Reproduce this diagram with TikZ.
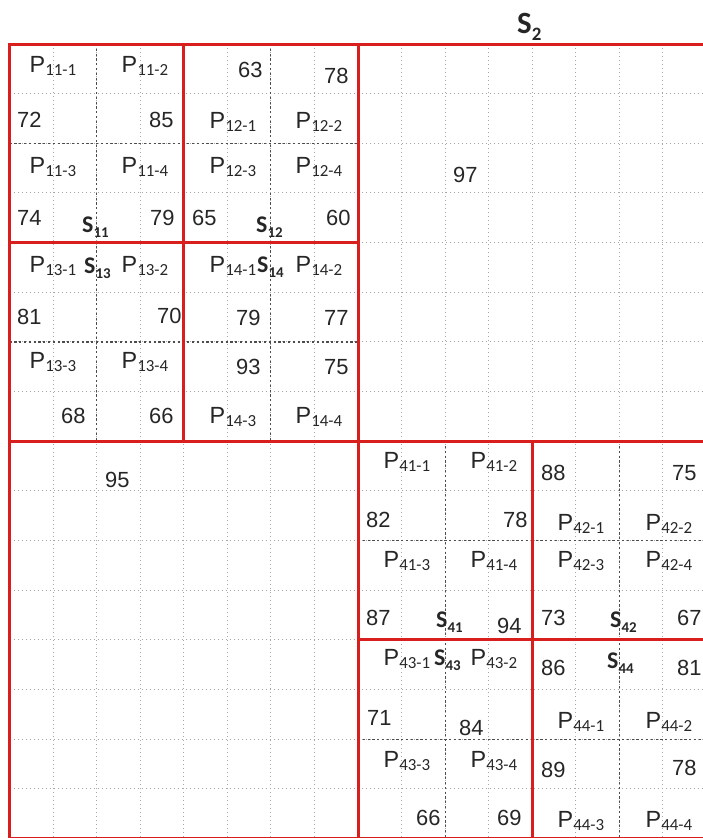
\documentclass[tikz,border=0pt]{standalone}
\usepackage{fontspec}
\setmainfont{Liberation Sans}
\newfontfamily\carl{Carlito}
\definecolor{gridred}{HTML}{D91E1E}
\definecolor{txt}{HTML}{262626}
\newcommand\Plab[1]{{\fontsize{23.5}{23.5}\selectfont P}\raisebox{-3.5bp}{\carl\fontsize{17}{17}\selectfont #1}}
\newcommand\Slab[1]{{\carl\bfseries\fontsize{24}{24}\selectfont S}\raisebox{-5bp}{\carl\bfseries\fontsize{15}{15}\selectfont #1}}
\tikzset{
  num/.style={anchor=base west, inner sep=0pt, text=txt, font=\fontsize{22}{22}\selectfont},
  plab/.style={anchor=base west, inner sep=0pt, text=txt},
  slab/.style={anchor=base west, inner sep=0pt, text=txt},
  lightgrid/.style={draw=gray!70, line width=1bp, dash pattern=on 1.3bp off 2.7bp},
  darkgrid/.style={draw=black!70, line width=1.1bp, dash pattern=on 2.2bp off 2.6bp},
  redline/.style={draw=gridred, line width=3bp},
}
\begin{document}
\begin{tikzpicture}[x=1bp, y=-1bp]
\path[use as bounding box] (0,0) rectangle (703,838);
\clip (0,0) rectangle (703,838);
\def\cw{43.5625}
\def\rh{49.66}
\def\xo{9.5}
\def\yo{44}
% light dotted grid
\foreach \i in {1,...,15} {
  \draw[lightgrid] ({\xo+\i*\cw},\yo) -- ({\xo+\i*\cw},{\yo+16*\rh});
  \draw[lightgrid] (\xo,{\yo+\i*\rh}) -- ({\xo+16*\cw},{\yo+\i*\rh});
}
% darker mid lines in subdivided quadrants
\foreach \i in {2,6} {
  \draw[darkgrid] ({\xo+\i*\cw},\yo) -- ({\xo+\i*\cw},{\yo+8*\rh});
  \draw[darkgrid] (\xo,{\yo+\i*\rh}) -- ({\xo+8*\cw},{\yo+\i*\rh});
}
\foreach \i in {10,14} {
  \draw[darkgrid] ({\xo+\i*\cw},{\yo+8*\rh}) -- ({\xo+\i*\cw},{\yo+16*\rh});
  \draw[darkgrid] ({\xo+8*\cw},{\yo+\i*\rh}) -- ({\xo+16*\cw},{\yo+\i*\rh});
}
% red lines
\draw[redline] (\xo,\yo) rectangle ({\xo+16*\cw},{\yo+16*\rh});
\draw[redline] ({\xo+8*\cw},\yo) -- ({\xo+8*\cw},{\yo+16*\rh});
\draw[redline] (\xo,{\yo+8*\rh}) -- ({\xo+16*\cw},{\yo+8*\rh});
\draw[redline] ({\xo+4*\cw},\yo) -- ({\xo+4*\cw},{\yo+8*\rh});
\draw[redline] (\xo,{\yo+4*\rh}) -- ({\xo+8*\cw},{\yo+4*\rh});
\draw[redline] ({\xo+12*\cw},{\yo+8*\rh}) -- ({\xo+12*\cw},{\yo+16*\rh});
\draw[redline] ({\xo+8*\cw},{\yo+12*\rh}) -- ({\xo+16*\cw},{\yo+12*\rh});
% title
\node[slab] (s2) at (517,33) {{\carl\bfseries\fontsize{31}{31}\selectfont S}\raisebox{-7bp}{\carl\bfseries\fontsize{19}{19}\selectfont 2}};
% top-left quadrant
\node[plab] (p111) at (29.5,72) {\Plab{11-1}};
\node[plab] (p112) at (121.5,72) {\Plab{11-2}};
\node[num] (n63) at (238,77) {63};
\node[num] (n78a) at (324,83) {78};
\node[num] (n72) at (17,127) {72};
\node[num] (n85) at (149,127) {85};
\node[plab] (p121) at (209.5,128) {\Plab{12-1}};
\node[plab] (p122) at (295.5,128) {\Plab{12-2}};
\node[plab] (p113) at (29.5,173) {\Plab{11-3}};
\node[plab] (p114) at (121.5,173) {\Plab{11-4}};
\node[plab] (p123) at (209.5,173) {\Plab{12-3}};
\node[plab] (p124) at (295.5,173) {\Plab{12-4}};
\node[num] (n74) at (17,225) {74};
\node[slab] (s11) at (82,232) {\Slab{11}};
\node[num] (n79a) at (150,225) {79};
\node[num] (n65) at (192,225) {65};
\node[slab] (s12) at (256,232) {\Slab{12}};
\node[num] (n60) at (326,225) {60};
\node[plab] (p131) at (29.5,272) {\Plab{13-1}};
\node[slab] (s13) at (84,273) {\Slab{13}};
\node[plab] (p132) at (121.5,272) {\Plab{13-2}};
\node[plab] (p141) at (209.5,272) {\Plab{14-1}};
\node[slab] (s14) at (257,272) {\Slab{14}};
\node[plab] (p142) at (295.5,272) {\Plab{14-2}};
\node[num] (n81a) at (17,324) {81};
\node[num] (n70) at (157,323) {70};
\node[num] (n79b) at (236,325) {79};
\node[num] (n77) at (324,325) {77};
\node[plab] (p133) at (29.5,368) {\Plab{13-3}};
\node[plab] (p134) at (121.5,368) {\Plab{13-4}};
\node[num] (n93) at (236,374) {93};
\node[num] (n75a) at (324,374) {75};
\node[num] (n68) at (61,423) {68};
\node[num] (n66a) at (149,423) {66};
\node[plab] (p143) at (209.5,423) {\Plab{14-3}};
\node[plab] (p144) at (295.5,423) {\Plab{14-4}};
% empty quadrants
\node[num] (n97) at (453,182) {97};
\node[num] (n95) at (105,487) {95};
% bottom-right quadrant
\node[plab] (p411) at (383.5,468) {\Plab{41-1}};
\node[plab] (p412) at (470.5,468) {\Plab{41-2}};
\node[num] (n88) at (541,480) {88};
\node[num] (n75b) at (672,480) {75};
\node[num] (n82) at (366,527) {82};
\node[num] (n78b) at (503,527) {78};
\node[plab] (p421) at (557.5,530) {\Plab{42-1}};
\node[plab] (p422) at (645.5,530) {\Plab{42-2}};
\node[plab] (p413) at (383.5,567) {\Plab{41-3}};
\node[plab] (p414) at (470.5,567) {\Plab{41-4}};
\node[plab] (p423) at (557.5,567) {\Plab{42-3}};
\node[plab] (p424) at (645.5,567) {\Plab{42-4}};
\node[num] (n87) at (366,625) {87};
\node[slab] (s41) at (436,627) {\Slab{41}};
\node[num] (n94) at (497,633) {94};
\node[num] (n73) at (541,625) {73};
\node[slab] (s42) at (610,627) {\Slab{42}};
\node[num] (n67) at (677,625) {67};
\node[plab] (p431) at (383.5,665) {\Plab{43-1}};
\node[slab] (s43) at (434,665) {\Slab{43}};
\node[plab] (p432) at (470.5,665) {\Plab{43-2}};
\node[num] (n86) at (541,675) {86};
\node[slab] (s44) at (607,668) {\Slab{44}};
\node[num] (n81b) at (677,675) {81};
\node[num] (n71) at (367,725) {71};
\node[num] (n84) at (459,735) {84};
\node[plab] (p441) at (557.5,728) {\Plab{44-1}};
\node[plab] (p442) at (645.5,728) {\Plab{44-2}};
\node[plab] (p433) at (383.5,767) {\Plab{43-3}};
\node[plab] (p434) at (470.5,767) {\Plab{43-4}};
\node[num] (n89) at (541,777) {89};
\node[num] (n78c) at (672,775) {78};
\node[num] (n66b) at (416,825) {66};
\node[num] (n69) at (497,825) {69};
\node[plab] (p443) at (557.5,827) {\Plab{44-3}};
\node[plab] (p444) at (645.5,827) {\Plab{44-4}};
\end{tikzpicture}
\end{document}
